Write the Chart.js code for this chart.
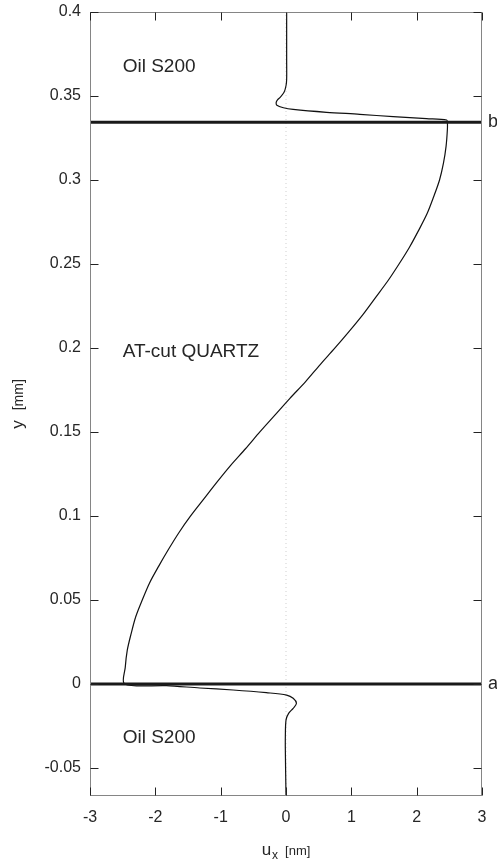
<!DOCTYPE html>
<html>
<head>
<meta charset="utf-8">
<script src="https://cdn.jsdelivr.net/npm/chart.js@4.4.1/dist/chart.umd.min.js"></script>
<style>
  html, body { margin: 0; padding: 0; background: #ffffff; }
  canvas { display: block; }
</style>
</head>
<body>
<canvas id="c" width="497" height="861"></canvas>
<script>
// Shear displacement profile across an AT-cut quartz plate loaded with oil on both faces.

// Axis ticks
const xTicks = [-3, -2, -1, 0, 1, 2, 3];
const yTicks = [-0.05, 0, 0.05, 0.1, 0.15, 0.2, 0.25, 0.3, 0.35, 0.4];
const yTickLabels = ['-0.05', '0', '0.05', '0.1', '0.15', '0.2', '0.25', '0.3', '0.35', '0.4'];

// Interfaces (mm)
const interfaceA = 0;
const interfaceB = 0.3344;

// Lower oil layer, from the bottom of the plot up to interface a
const yOilLow = [-0.0667, -0.0393, -0.0314, -0.0215, -0.0175, -0.0145, -0.0115, -0.0085, -0.0066, -0.0052, -0.0036, -0.0024, -0.0010, 0];
const uOilLow = [0.00, -0.01, -0.01, 0.00, 0.04, 0.11, 0.16, 0.11, 0.01, -0.30, -0.81, -1.32, -1.83, -2.47];

// Quartz plate, between interfaces a and b
const yQuartz = [0.01, 0.02, 0.03, 0.04, 0.05, 0.06, 0.07, 0.08, 0.09, 0.10, 0.11, 0.12, 0.13, 0.14, 0.15, 0.16, 0.17,
                 0.18, 0.19, 0.20, 0.21, 0.22, 0.23, 0.24, 0.25, 0.26, 0.27, 0.28, 0.29, 0.30, 0.31, 0.32, 0.33, 0.3344];
const uQuartz = [-2.46, -2.43, -2.37, -2.30, -2.20, -2.09, -1.95, -1.80, -1.64, -1.46, -1.26, -1.06, -0.85, -0.62, -0.40, -0.17, 0.06,
                 0.30, 0.52, 0.75, 0.97, 1.18, 1.37, 1.56, 1.73, 1.89, 2.03, 2.16, 2.26, 2.35, 2.41, 2.45, 2.47, 2.47];

// Upper oil layer, from interface b to the top of the plot
const yOilHigh = [0.3357, 0.3365, 0.3377, 0.3391, 0.3403, 0.3420, 0.3430, 0.3445, 0.3462, 0.3477, 0.3492, 0.3522, 0.3561, 0.3600, 0.3720, 0.4000];
const uOilHigh = [2.46, 2.15, 1.64, 1.13, 0.62, 0.11, -0.04, -0.14, -0.15, -0.13, -0.09, -0.03, 0.00, 0.01, 0.01, 0.01];

const toPoints = (ys, us) => ys.map((v, i) => ({ x: us[i], y: v }));
const profile = [
  ...toPoints(yOilLow, uOilLow),
  ...toPoints(yQuartz, uQuartz),
  ...toPoints(yOilHigh, uOilHigh)
];

const FONT = '"Liberation Sans", Arial, Helvetica, sans-serif';
const INK = '#262626';

// Region captions, placed in data coordinates
const captions = [
  { text: 'Oil S200', u: -2.5, y: 0.3672 },
  { text: 'AT-cut QUARTZ', u: -2.5, y: 0.1978 },
  { text: 'Oil S200', u: -2.5, y: -0.0320 }
];

const decorations = {
  id: 'decorations',
  afterDatasetsDraw(chart) {
    const { ctx, chartArea: a, scales: { x, y } } = chart;
    ctx.save();

    // frame
    ctx.strokeStyle = '#858585';
    ctx.lineWidth = 1;
    const L = Math.round(a.left) + 0.5, R = Math.round(a.right) - 0.5;
    const T = Math.round(a.top) + 0.5, B = Math.round(a.bottom) - 0.5;
    ctx.strokeRect(L, T, R - L, B - T);

    // inward tick marks on all four sides
    ctx.strokeStyle = '#222';
    const tl = 8;
    ctx.beginPath();
    xTicks.forEach(v => {
      const px = Math.round(x.getPixelForValue(v)) + 0.5;
      ctx.moveTo(px, B); ctx.lineTo(px, B - tl);
      ctx.moveTo(px, T); ctx.lineTo(px, T + tl);
    });
    yTicks.forEach(v => {
      const py = Math.round(y.getPixelForValue(v)) + 0.5;
      ctx.moveTo(L, py); ctx.lineTo(L + tl, py);
      ctx.moveTo(R, py); ctx.lineTo(R - tl, py);
    });
    ctx.stroke();

    // captions
    ctx.fillStyle = INK;
    ctx.font = '19px ' + FONT;
    ctx.textAlign = 'left';
    ctx.textBaseline = 'middle';
    captions.forEach(c => {
      ctx.fillText(c.text, x.getPixelForValue(c.u), y.getPixelForValue(c.y));
    });

    // interface letters
    ctx.font = '18px ' + FONT;
    ctx.fillText('a', a.right + 6, y.getPixelForValue(interfaceA));
    ctx.fillText('b', a.right + 6, y.getPixelForValue(interfaceB));

    // x axis title: u_x [nm]
    ctx.textBaseline = 'alphabetic';
    const cx = (a.left + a.right) / 2;
    ctx.font = '17px ' + FONT;
    const uW = ctx.measureText('u').width;
    ctx.font = '12px ' + FONT;
    const xW = ctx.measureText('x').width;
    ctx.font = '13px ' + FONT;
    const nmW = ctx.measureText('[nm]').width;
    const gap = 8;
    let sx = cx - (uW + xW + gap + nmW) / 2;
    ctx.font = '17px ' + FONT;
    ctx.fillText('u', sx, 855);
    ctx.font = '12px ' + FONT;
    ctx.fillText('x', sx + uW + 1, 859);
    ctx.font = '13px ' + FONT;
    ctx.fillText('[nm]', sx + uW + xW + gap, 855);

    // y axis title: y [mm]
    ctx.translate(23, (a.top + a.bottom) / 2);
    ctx.rotate(-Math.PI / 2);
    ctx.font = '17px ' + FONT;
    const yW = ctx.measureText('y').width;
    ctx.font = '14px ' + FONT;
    const mmW = ctx.measureText('[mm]').width;
    const g2 = 10;
    let sy = -(yW + g2 + mmW) / 2;
    ctx.font = '17px ' + FONT;
    ctx.fillText('y', sy, 0);
    ctx.font = '14px ' + FONT;
    ctx.fillText('[mm]', sy + yW + g2, 0);

    ctx.restore();
  }
};

const zeroPadding = s => { s.paddingTop = 0; s.paddingBottom = 0; s.paddingLeft = 0; s.paddingRight = 0; };

new Chart(document.getElementById('c'), {
  type: 'scatter',
  data: {
    datasets: [
      {
        label: 'interface a',
        data: [{ x: -3, y: interfaceA }, { x: 3, y: interfaceA }],
        showLine: true, borderColor: '#1a1a1a', borderWidth: 3, pointRadius: 0
      },
      {
        label: 'interface b',
        data: [{ x: -3, y: interfaceB }, { x: 3, y: interfaceB }],
        showLine: true, borderColor: '#1a1a1a', borderWidth: 3, pointRadius: 0
      },
      {
        label: 'u_x',
        data: profile,
        showLine: true, borderColor: '#111', borderWidth: 1.2, pointRadius: 0, tension: 0.3
      },
      {
        label: 'zero',
        data: [{ x: 0, y: -0.0667 }, { x: 0, y: 0.4 }],
        showLine: true, borderColor: '#cfcfcf', borderWidth: 1, borderDash: [1, 3], pointRadius: 0
      }
    ]
  },
  options: {
    responsive: false,
    animation: false,
    devicePixelRatio: 1,
    layout: { padding: { top: 12, right: 15, left: 0, bottom: 0 } },
    plugins: { legend: { display: false }, tooltip: { enabled: false }, title: { display: false } },
    scales: {
      x: {
        type: 'linear', position: 'bottom', min: -3, max: 3,
        grid: { display: false, drawTicks: false, tickLength: 0 },
        border: { display: false },
        afterBuildTicks: s => { s.ticks = xTicks.map(v => ({ value: v })); },
        afterFit: s => { s.height = 65; zeroPadding(s); },
        ticks: {
          autoSkip: false, maxRotation: 0, padding: 12, color: INK,
          font: { family: FONT, size: 16 },
          callback: v => String(v)
        }
      },
      y: {
        type: 'linear', position: 'left', min: -0.0667, max: 0.4,
        grid: { display: false, drawTicks: false, tickLength: 0 },
        border: { display: false },
        afterBuildTicks: s => { s.ticks = yTicks.map(v => ({ value: v })); },
        afterFit: s => { s.width = 90; zeroPadding(s); },
        ticks: {
          autoSkip: false, padding: 9, color: INK,
          font: { family: FONT, size: 16 },
          callback: v => yTickLabels[yTicks.findIndex(t => Math.abs(t - v) < 1e-9)]
        }
      }
    }
  },
  plugins: [decorations]
});
</script>
</body>
</html>
